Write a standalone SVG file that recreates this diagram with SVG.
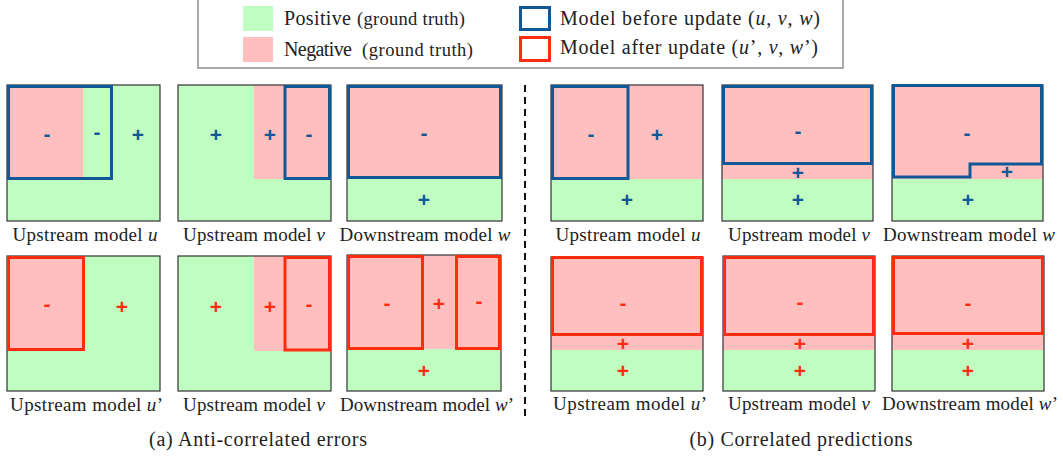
<svg xmlns="http://www.w3.org/2000/svg" width="1063" height="456" viewBox="0 0 1063 456">
<style>
.bg{fill:#ffffff}
.pos{fill:#c0fdc0}
.neg{fill:#ffbfbf}
.frame{fill:none;stroke:#333;stroke-width:1.2}
.blue{fill:none;stroke:#125897;stroke-width:3}
.red{fill:none;stroke:#ff2d10;stroke-width:3}
.sb{font-family:"Liberation Sans",Arial,sans-serif;font-weight:bold;font-size:21px;fill:#125897;text-anchor:middle}
.sr{font-family:"Liberation Sans",Arial,sans-serif;font-weight:bold;font-size:21px;fill:#ff2d10;text-anchor:middle}
.lab{font-family:"Liberation Serif","Times New Roman",serif;font-size:19px;fill:#222;text-anchor:middle}
.leg{font-family:"Liberation Serif","Times New Roman",serif;font-size:20px;fill:#222}
.legs{font-family:"Liberation Serif","Times New Roman",serif;font-size:18.5px;fill:#222}
.cap{font-family:"Liberation Serif","Times New Roman",serif;font-size:20px;fill:#222;text-anchor:middle}
.it{font-style:italic}
</style>
<rect class="bg" x="0" y="0" width="1063" height="456"/>

<g id="legend">
<rect x="198" y="-2" width="645" height="70" fill="#fff" stroke="#aaa" stroke-width="2"/>
<rect class="pos" x="243" y="6" width="30" height="25"/>
<rect class="neg" x="243" y="37" width="30" height="25"/>
<text class="leg" x="284" y="25" textLength="67">Positive</text>
<text class="legs" x="357" y="25" textLength="108">(ground truth)</text>
<text class="leg" x="284" y="56" textLength="68">Negative</text>
<text class="legs" x="362" y="56" textLength="111">(ground truth)</text>
<rect class="blue" x="520.5" y="7.5" width="29" height="22"/>
<rect class="red" x="520.5" y="37.5" width="29" height="23"/>
<text class="leg" x="560" y="25" textLength="260">Model before update (<tspan class="it">u</tspan>, <tspan class="it">v</tspan>, <tspan class="it">w</tspan>)</text>
<text class="leg" x="560" y="54" textLength="258">Model after update (<tspan class="it">u</tspan>’, <tspan class="it">v</tspan>, <tspan class="it">w</tspan>’)</text>
</g>

<g id="connectors">
<line x1="525" y1="85" x2="525" y2="420" stroke="#111" stroke-width="2" stroke-dasharray="7 5"/>
</g>

<!-- (a) top row -->
<g id="a-u">
<rect class="pos" x="7" y="85" width="153" height="136"/>
<rect class="neg" x="7" y="85" width="76" height="94"/>
<rect class="frame" x="7" y="85" width="153" height="136"/>
<rect class="blue" x="8.5" y="86.5" width="103" height="92"/>
<text class="sb" x="47" y="141">-</text>
<text class="sb" x="97" y="139">-</text>
<text class="sb" x="138" y="142">+</text>
<text class="lab" x="85" y="241" textLength="145">Upstream model <tspan class="it">u</tspan></text>
</g>
<g id="a-v">
<rect class="pos" x="178" y="85" width="153" height="136"/>
<rect class="neg" x="254" y="85" width="77" height="94"/>
<rect class="frame" x="178" y="85" width="153" height="136"/>
<rect class="blue" x="285" y="86.5" width="44.5" height="92"/>
<text class="sb" x="216" y="142">+</text>
<text class="sb" x="270" y="142">+</text>
<text class="sb" x="309" y="141">-</text>
<text class="lab" x="254" y="241" textLength="142">Upstream model <tspan class="it">v</tspan></text>
</g>
<g id="a-w">
<rect class="pos" x="347" y="85" width="155" height="136"/>
<rect class="neg" x="347" y="85" width="155" height="93"/>
<rect class="frame" x="347" y="85" width="155" height="136"/>
<rect class="blue" x="348.5" y="86.5" width="152" height="91"/>
<text class="sb" x="424" y="140">-</text>
<text class="sb" x="424" y="207">+</text>
<text class="lab" x="425" y="241" textLength="171">Downstream model <tspan class="it">w</tspan></text>
</g>

<!-- (a) bottom row -->
<g id="a-u2">
<rect class="pos" x="7" y="256" width="153" height="135"/>
<rect class="neg" x="7" y="256" width="77" height="94"/>
<rect class="frame" x="7" y="256" width="153" height="135"/>
<rect class="red" x="8.5" y="257.5" width="75" height="92"/>
<text class="sr" x="47" y="311">-</text>
<text class="sr" x="122" y="314">+</text>
<text class="lab" x="86.5" y="411" textLength="153">Upstream model <tspan class="it">u</tspan>’</text>
</g>
<g id="a-v2">
<rect class="pos" x="178" y="256" width="153" height="135"/>
<rect class="neg" x="254" y="256" width="77" height="95"/>
<rect class="frame" x="178" y="256" width="153" height="135"/>
<rect class="red" x="285" y="257.5" width="44.5" height="92.5"/>
<text class="sr" x="216" y="314">+</text>
<text class="sr" x="270" y="314">+</text>
<text class="sr" x="309" y="311">-</text>
<text class="lab" x="254" y="411" textLength="142">Upstream model <tspan class="it">v</tspan></text>
</g>
<g id="a-w2">
<rect class="pos" x="347" y="255" width="154" height="136"/>
<rect class="neg" x="347" y="255" width="154" height="94"/>
<rect class="frame" x="347" y="255" width="154" height="136"/>
<rect class="red" x="348.5" y="256.5" width="74" height="92"/>
<rect class="red" x="456.5" y="256.5" width="43" height="92"/>
<text class="sr" x="387" y="310">-</text>
<text class="sr" x="439" y="311">+</text>
<text class="sr" x="479" y="308">-</text>
<text class="sr" x="424" y="378">+</text>
<text class="lab" x="427" y="411" textLength="174">Downstream model <tspan class="it">w</tspan>’</text>
</g>

<!-- (b) top row -->
<g id="b-u">
<rect class="pos" x="551" y="85" width="152" height="136"/>
<rect class="neg" x="551" y="85" width="152" height="94"/>
<rect class="frame" x="551" y="85" width="152" height="136"/>
<rect class="blue" x="552.5" y="86.5" width="75.5" height="92"/>
<text class="sb" x="591" y="141">-</text>
<text class="sb" x="657" y="142">+</text>
<text class="sb" x="627" y="207">+</text>
<text class="lab" x="628" y="241" textLength="145">Upstream model <tspan class="it">u</tspan></text>
</g>
<g id="b-v">
<rect class="pos" x="722" y="85" width="151" height="136"/>
<rect class="neg" x="722" y="85" width="151" height="94"/>
<rect class="frame" x="722" y="85" width="151" height="136"/>
<rect class="blue" x="723.5" y="86.5" width="148" height="77"/>
<text class="sb" x="798" y="138">-</text>
<text class="sb" x="798" y="180">+</text>
<text class="sb" x="798" y="207">+</text>
<text class="lab" x="799" y="241" textLength="142">Upstream model <tspan class="it">v</tspan></text>
</g>
<g id="b-w">
<rect class="pos" x="892" y="85" width="151" height="136"/>
<rect class="neg" x="892" y="85" width="151" height="94"/>
<rect class="frame" x="892" y="85" width="151" height="136"/>
<path class="blue" d="M893.5 85.5 H1041.5 V164 H970 V177 H893.5 Z"/>
<text class="sb" x="967" y="140">-</text>
<text class="sb" x="1007" y="179">+</text>
<text class="sb" x="968" y="207">+</text>
<text class="lab" x="969" y="241" textLength="172">Downstream model <tspan class="it">w</tspan></text>
</g>

<!-- (b) bottom row -->
<g id="b-u2">
<rect class="pos" x="551" y="257" width="152" height="134"/>
<rect class="neg" x="551" y="257" width="152" height="93"/>
<rect class="frame" x="551" y="257" width="152" height="134"/>
<rect class="red" x="552.5" y="257.5" width="149" height="77"/>
<text class="sr" x="623" y="310">-</text>
<text class="sr" x="623" y="351">+</text>
<text class="sr" x="623" y="378">+</text>
<text class="lab" x="630" y="410" textLength="154">Upstream model <tspan class="it">u</tspan>’</text>
</g>
<g id="b-v2">
<rect class="pos" x="723" y="256" width="152" height="135"/>
<rect class="neg" x="723" y="256" width="152" height="94"/>
<rect class="frame" x="723" y="256" width="152" height="135"/>
<rect class="red" x="724.5" y="257.5" width="149" height="77"/>
<text class="sr" x="800" y="309">-</text>
<text class="sr" x="800" y="351">+</text>
<text class="sr" x="800" y="378">+</text>
<text class="lab" x="799" y="410" textLength="142">Upstream model <tspan class="it">v</tspan></text>
</g>
<g id="b-w2">
<rect class="pos" x="892" y="256" width="152" height="135"/>
<rect class="neg" x="892" y="256" width="152" height="94"/>
<rect class="frame" x="892" y="256" width="152" height="135"/>
<rect class="red" x="893.5" y="257.5" width="149" height="76"/>
<text class="sr" x="968" y="310">-</text>
<text class="sr" x="968" y="351">+</text>
<text class="sr" x="968" y="378">+</text>
<text class="lab" x="970" y="410" textLength="176">Downstream model <tspan class="it">w</tspan>’</text>
</g>

<g id="captions">
<text class="cap" x="258" y="446" textLength="218">(a) Anti-correlated errors</text>
<text class="cap" x="801" y="446" textLength="223">(b) Correlated predictions</text>
</g>
</svg>
